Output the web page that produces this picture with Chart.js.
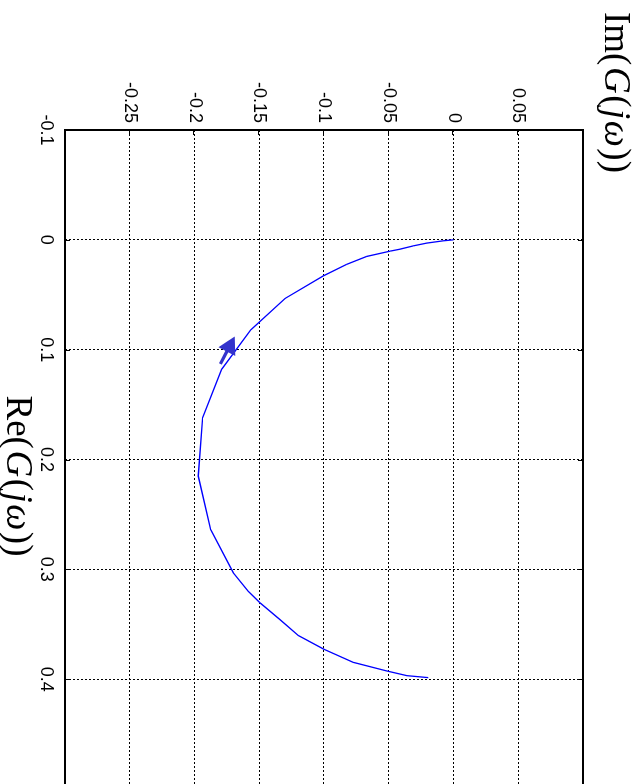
<!DOCTYPE html>
<html>
<head>
<meta charset="utf-8">
<script src="https://cdn.jsdelivr.net/npm/chart.js@4.4.1/dist/chart.umd.min.js"></script>
<style>
html,body{margin:0;padding:0;overflow:hidden;background:#fff;width:639px;height:784px;}
#wrap{position:absolute;left:0;top:0;width:860px;height:639px;transform-origin:0 0;transform:translateX(639px) rotate(90deg);}
</style>
</head>
<body>
<div id="wrap"><canvas id="c" width="860" height="639"></canvas></div>
<script>
// Nyquist data: real and imaginary parts of G(jw)
const reValues = [0, 0.0009, 0.0030, 0.0055, 0.0085, 0.0103, 0.0151, 0.0223, 0.0328, 0.0534, 0.0820, 0.1179, 0.1619, 0.2151, 0.2637, 0.3032, 0.3200, 0.3305, 0.3458, 0.3603, 0.3725, 0.3847, 0.3925, 0.3968, 0.3986];
const imValues = [0, -0.0079, -0.0207, -0.0310, -0.0413, -0.0490, -0.0670, -0.0825, -0.1005, -0.1301, -0.1566, -0.1790, -0.1937, -0.1971, -0.1875, -0.1700, -0.1585, -0.1494, -0.1340, -0.1198, -0.1005, -0.0774, -0.0516, -0.0361, -0.0195];
const reTicks = [-0.1, 0, 0.1, 0.2, 0.3, 0.4, 0.5];
const imTicks = [-0.3, -0.25, -0.2, -0.15, -0.1, -0.05, 0, 0.05, 0.1];
const reLabelled = [-0.1, 0, 0.1, 0.2, 0.3, 0.4];
const imLabelled = [-0.25, -0.2, -0.15, -0.1, -0.05, 0, 0.05];
// direction arrow (re, im)
const arrowFrom = [0.113, -0.180];
const arrowTo = [0.088, -0.169];
// axis titles: [text, italic]
const imTitle = [["Im(", false], ["G", true], ["(", false], ["j", true], ["\u03C9", true], ["))", false]];
const reTitle = [["Re(", false], ["G", true], ["(", false], ["j", true], ["\u03C9", true], ["))", false]];

const TICK_FONT = {family: '"Liberation Sans", Arial, sans-serif', size: 18};
const fmt = v => String(Number(v.toFixed(3)));

function drawRich(ctx, parts, x, y, size, align, gap) {
  const fonts = parts.map(p => (p[1] ? 'italic ' : '') + size + 'px "Liberation Serif", "Times New Roman", serif');
  const widths = parts.map((p, i) => { ctx.font = fonts[i]; return ctx.measureText(p[0]).width; });
  const total = widths.reduce((a, b) => a + b, 0) + gap * (parts.length - 1);
  let cx = align === 'center' ? x - total / 2 : x;
  ctx.textBaseline = 'alphabetic';
  ctx.textAlign = 'left';
  parts.forEach((p, i) => { ctx.font = fonts[i]; ctx.fillText(p[0], cx, y); cx += widths[i] + gap; });
}

const framePlugin = {
  id: 'frame',
  afterDatasetsDraw(chart) {
    const {ctx, scales: {x, y}} = chart;
    // arrow
    const x0 = x.getPixelForValue(arrowFrom[0]), y0 = y.getPixelForValue(arrowFrom[1]);
    const x1 = x.getPixelForValue(arrowTo[0]), y1 = y.getPixelForValue(arrowTo[1]);
    const ang = Math.atan2(y1 - y0, x1 - x0);
    const hl = 17, hw = 9.5;
    const bx = x1 - hl * Math.cos(ang), by = y1 - hl * Math.sin(ang);
    ctx.save();
    ctx.strokeStyle = '#3333cc';
    ctx.fillStyle = '#3333cc';
    ctx.lineWidth = 3.2;
    ctx.beginPath(); ctx.moveTo(x0, y0); ctx.lineTo(bx + 2 * Math.cos(ang), by + 2 * Math.sin(ang)); ctx.stroke();
    ctx.beginPath();
    ctx.moveTo(x1, y1);
    ctx.lineTo(bx + hw * Math.sin(ang), by - hw * Math.cos(ang));
    ctx.lineTo(bx - hw * Math.sin(ang), by + hw * Math.cos(ang));
    ctx.closePath(); ctx.fill();
    ctx.restore();
  },
  afterDraw(chart) {
    const {ctx, chartArea: a, scales: {x, y}} = chart;
    ctx.save();
    ctx.strokeStyle = '#000';
    ctx.lineWidth = 1;
    ctx.beginPath();
    reTicks.forEach(v => {
      const px = Math.round(x.getPixelForValue(v)) + 0.5;
      ctx.moveTo(px, a.bottom); ctx.lineTo(px, a.bottom - 5);
      ctx.moveTo(px, a.top); ctx.lineTo(px, a.top + 5);
    });
    imTicks.forEach(v => {
      const py = Math.round(y.getPixelForValue(v)) + 0.5;
      ctx.moveTo(a.left, py); ctx.lineTo(a.left + 5, py);
      ctx.moveTo(a.right, py); ctx.lineTo(a.right - 5, py);
    });
    ctx.stroke();
    ctx.lineWidth = 2;
    ctx.strokeRect(a.left, a.top, a.right - a.left, a.bottom - a.top);
    ctx.fillStyle = '#000';
    drawRich(ctx, imTitle, 12, 34, 37, 'left', 1.5);
    drawRich(ctx, reTitle, 476, 632, 37, 'center', 1.5);
    ctx.restore();
  }
};

new Chart(document.getElementById('c'), {
  type: 'scatter',
  data: {
    datasets: [{
      data: reValues.map((r, i) => ({x: r, y: imValues[i]})),
      showLine: true,
      borderColor: '#0000ff',
      borderWidth: 1.3,
      pointRadius: 0,
      fill: false,
      tension: 0
    }]
  },
  options: {
    responsive: false,
    animation: false,
    devicePixelRatio: 1,
    layout: {padding: {left: 0, top: 56, right: 71, bottom: 0}},
    plugins: {legend: {display: false}, tooltip: {enabled: false}},
    scales: {
      x: {
        type: 'linear', min: -0.1, max: 0.5,
        afterBuildTicks: s => { s.ticks = reTicks.map(v => ({value: v})); },
        afterFit: s => { s.height = 65; },
        grid: {color: '#000', lineWidth: 1, drawTicks: false},
        border: {display: false, dash: [2, 2]},
        ticks: {padding: 8, color: '#000', font: TICK_FONT, maxRotation: 0, autoSkip: false,
          callback: v => reLabelled.some(t => Math.abs(t - v) < 1e-9) ? fmt(v) : ''}
      },
      y: {
        type: 'linear', min: -0.3, max: 0.1,
        afterBuildTicks: s => { s.ticks = imTicks.map(v => ({value: v})); },
        afterFit: s => { s.width = 130; },
        grid: {color: '#000', lineWidth: 1, drawTicks: false},
        border: {display: false, dash: [2, 2]},
        ticks: {padding: 7, color: '#000', font: TICK_FONT, autoSkip: false,
          callback: v => imLabelled.some(t => Math.abs(t - v) < 1e-9) ? fmt(v) : ''}
      }
    }
  },
  plugins: [framePlugin]
});
</script>
</body>
</html>
